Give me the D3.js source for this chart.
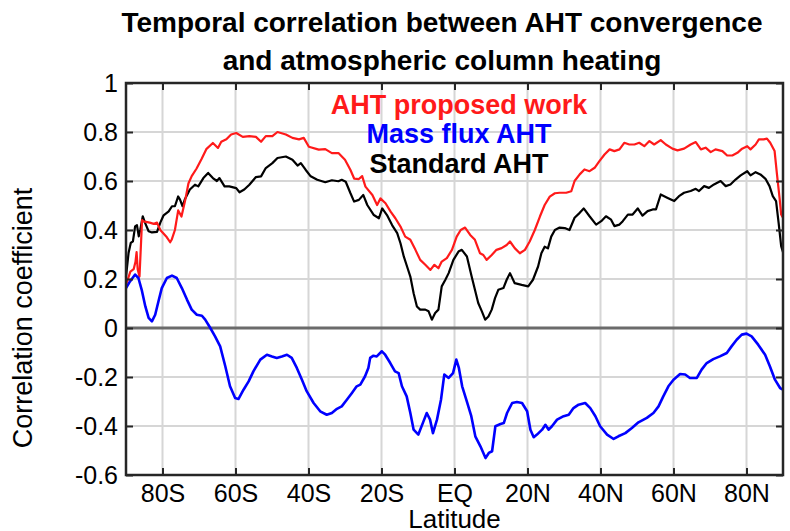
<!DOCTYPE html>
<html>
<head>
<meta charset="utf-8">
<script src="https://cdn.jsdelivr.net/npm/d3@7"></script>
<style>
  body { margin: 0; background: #fff; }
  text { font-family: "Liberation Sans", Arial, sans-serif; }
</style>
</head>
<body>
<div id="chart"></div>
<script>

///// Data

// x tick values / labels
let xTicks = [-80, -60, -40, -20, 0, 20, 40, 60, 80];
let xTickLabels = ["80S", "60S", "40S", "20S", "EQ", "20N", "40N", "60N", "80N"];
let yTicks = [-0.6, -0.4, -0.2, 0, 0.2, 0.4, 0.6, 0.8, 1];
let yTickLabels = ["-0.6", "-0.4", "-0.2", "0", "0.2", "0.4", "0.6", "0.8", "1"];

let legendNames = ["AHT proposed work", "Mass flux AHT", "Standard AHT"];

// AHT proposed work (red)
let latRed = [-90, -88.8, -87.9, -87.4, -87.1, -86.8, -86.3, -85.6, -85.2, -83.5, -82.4, -81.5, -80.6,
  -78.8, -77.9, -77.5, -76.6, -75.7, -74.8, -73.8, -72.9, -72.0, -70.7, -69.3, -68.0, -66.2, -64.8,
  -63.9, -62.5, -61.2, -59.8, -58.0, -56.2, -54.4, -53.0, -51.7, -49.9, -48.5, -46.2, -44.4, -42.6,
  -41.3, -39.9, -37.2, -35.4, -33.6, -31.8, -30.0, -28.5, -27.5, -26.2, -25.3, -24.4, -22.5, -21.2,
  -20.3, -18.9, -17.5, -16.2, -14.8, -13.5, -12.1, -10.7, -9.4, -8.0, -6.6, -5.5, -4.4, -3.5, -2.1,
  -0.7, 0.6, 1.7, 2.9, 4.3, 5.6, 7.0, 7.9, 8.8, 10.2, 11.5, 12.9, 14.3, 15.2, 16.5, 17.9, 19.3, 20.6,
  22.0, 23.4, 24.7, 26.1, 27.5, 28.8, 30.6, 32.0, 32.9, 34.3, 35.6, 37.0, 38.4, 39.7, 41.1, 42.5, 43.8,
  45.2, 46.5, 47.9, 49.3, 50.6, 52.0, 53.4, 54.7, 56.5, 57.9, 59.7, 61.1, 62.9, 64.7, 66.1, 67.5, 68.8,
  70.2, 71.5, 73.4, 74.7, 76.1, 77.5, 78.8, 80.2, 81.1, 82.5, 83.4, 84.7, 85.6, 86.5, 87.7, 88.3, 89.1,
  89.5, 90];
let corrRed = [0.177, 0.23, 0.24, 0.27, 0.31, 0.24, 0.21, 0.44, 0.435, 0.43, 0.425, 0.43, 0.40,
  0.37, 0.35, 0.36, 0.40, 0.48, 0.455, 0.52, 0.59, 0.62, 0.65, 0.69, 0.73, 0.755, 0.735,
  0.76, 0.77, 0.79, 0.796, 0.78, 0.783, 0.78, 0.76, 0.783, 0.783, 0.80, 0.79, 0.776, 0.77,
  0.776, 0.74, 0.728, 0.73, 0.714, 0.714, 0.687, 0.645, 0.61, 0.608, 0.62, 0.577, 0.543, 0.502,
  0.529, 0.509, 0.475, 0.448, 0.414, 0.373, 0.36, 0.319, 0.278, 0.258, 0.237, 0.258, 0.244, 0.271, 0.285,
  0.319, 0.373, 0.40, 0.41, 0.38, 0.36, 0.305, 0.298, 0.278, 0.298, 0.319, 0.326, 0.339, 0.353, 0.326, 0.305, 0.319, 0.353,
  0.40, 0.455, 0.502, 0.536, 0.55, 0.552, 0.552, 0.558, 0.60, 0.627, 0.647, 0.64, 0.654, 0.681, 0.708, 0.729, 0.722,
  0.729, 0.756, 0.749, 0.749, 0.756, 0.742, 0.763, 0.749, 0.767, 0.749, 0.732, 0.725, 0.732, 0.749, 0.759, 0.729, 0.736,
  0.718, 0.729, 0.722, 0.704, 0.704, 0.715, 0.732, 0.742, 0.729, 0.749, 0.77, 0.77, 0.773, 0.756, 0.722, 0.634, 0.525,
  0.463, 0.45];

// Standard AHT (black)
let latBlack = [-90, -89.3, -88.7, -88.1, -87.5, -87.0, -86.5, -86.1, -85.4, -84.8, -83.8, -82.9, -81.5,
  -80.6, -79.7, -78.3, -77.4, -76.6, -75.7, -75.2, -74.5, -73.9, -72.5, -71.1, -70.2, -68.8, -67.5,
  -66.2, -65.1, -64.4, -63.0, -61.7, -59.8, -58.9, -57.6, -56.2, -54.4, -53.0, -51.7, -49.9, -48.5,
  -46.2, -44.4, -43.0, -42.1, -40.8, -39.4, -37.6, -35.4, -33.6, -31.8, -30.9, -29.8, -28.5, -27.5,
  -26.2, -25.0, -23.9, -22.1, -20.7, -19.8, -18.5, -17.1, -15.7, -14.8, -13.9, -13.0, -12.1, -11.2,
  -10.3, -9.4, -8.0, -7.1, -6.2, -5.3, -4.4, -3.5, -2.5, -1.6, -0.3, 1.1, 2.0, 3.4, 4.7, 5.6, 6.5,
  7.5, 8.4, 9.3, 10.2, 11.1, 12.0, 13.4, 14.3, 15.2, 16.5, 18.4, 20.2, 21.5, 22.9, 23.8, 24.7, 25.6,
  26.5, 27.5, 28.8, 30.2, 31.5, 32.9, 34.3, 35.4, 37.0, 38.8, 40.2, 41.5, 42.9, 43.8, 45.2, 46.1,
  47.5, 48.8, 50.2, 51.5, 52.9, 54.3, 55.2, 56.5, 58.4, 60.2, 61.5, 62.9, 64.7, 66.1, 67.0, 68.4,
  69.7, 71.1, 72.9, 74.3, 75.6, 77.0, 78.4, 80.2, 81.1, 82.5, 83.8, 85.2, 86.3, 87.2, 88.1, 88.8,
  89.5, 90];
let corrBlack = [0.21, 0.306, 0.347, 0.354, 0.415, 0.42, 0.374, 0.40, 0.456, 0.43, 0.395, 0.39, 0.392,
  0.43, 0.46, 0.476, 0.497, 0.497, 0.537, 0.524, 0.497, 0.524, 0.565, 0.585, 0.578, 0.612, 0.633,
  0.612, 0.60, 0.612, 0.578, 0.578, 0.571, 0.554, 0.565, 0.585, 0.616, 0.619, 0.653, 0.673, 0.694,
  0.70, 0.687, 0.663, 0.673, 0.646, 0.619, 0.605, 0.595, 0.603, 0.599, 0.605, 0.597, 0.55, 0.516,
  0.523, 0.543, 0.502, 0.461, 0.448, 0.488, 0.461, 0.42, 0.387, 0.346, 0.292, 0.251, 0.21, 0.142,
  0.088, 0.075, 0.075, 0.068, 0.034, 0.061, 0.075, 0.17, 0.197, 0.224, 0.278, 0.312, 0.319, 0.292, 0.21, 0.156, 0.102,
  0.068, 0.034, 0.047, 0.075, 0.122, 0.156, 0.163, 0.197, 0.224, 0.183, 0.176, 0.17, 0.197, 0.251, 0.305, 0.332, 0.325,
  0.373, 0.40, 0.41, 0.408, 0.40, 0.45, 0.47, 0.488, 0.456, 0.422, 0.436, 0.456, 0.442, 0.416, 0.422, 0.436,
  0.463, 0.463, 0.488, 0.459, 0.477, 0.484, 0.484, 0.545, 0.531, 0.518, 0.538, 0.552, 0.559, 0.568, 0.559, 0.579,
  0.572, 0.586, 0.60, 0.579, 0.586, 0.606, 0.623, 0.64, 0.623, 0.636, 0.627, 0.609, 0.579, 0.538, 0.518, 0.429,
  0.334, 0.31];

// Mass flux AHT (blue)
let latBlue = [-90, -88.9, -87.5, -86.6, -85.7, -84.7, -83.8, -82.9, -82.0, -81.1, -80.2, -78.8, -77.4,
  -76.1, -74.7, -73.3, -72.0, -70.6, -69.2, -68.3, -66.9, -65.6, -64.2, -62.8, -61.5, -60.1, -59.2,
  -57.8, -56.4, -55.1, -53.2, -51.4, -50.0, -48.7, -47.3, -45.9, -44.6, -43.2, -41.8, -40.5, -38.6,
  -36.8, -35.0, -33.6, -32.2, -30.9, -29.5, -28.1, -26.8, -25.8, -24.5, -23.6, -23.1, -22.2, -21.3,
  -19.9, -19.0, -17.6, -16.3, -15.3, -14.4, -13.1, -12.1, -11.2, -9.9, -8.5, -7.6, -6.7, -5.9, -4.8,
  -3.7, -2.8, -1.6, -0.4, 0.5, 1.2, 2.1, 3.5, 4.6, 5.7, 7.1, 8.5, 9.4, 10.3, 11.2, 12.6, 13.5, 14.4,
  15.8, 17.1, 18.5, 19.9, 20.8, 21.7, 22.6, 24.0, 24.9, 25.8, 26.7, 28.1, 29.9, 31.3, 32.6, 34.0,
  35.8, 37.2, 38.6, 39.9, 41.8, 43.6, 44.9, 46.8, 48.6, 50.4, 52.7, 54.5, 55.9, 57.2, 58.6, 60.0,
  61.8, 63.2, 64.5, 66.4, 67.7, 69.1, 70.9, 72.7, 74.6, 75.9, 77.3, 78.7, 80.0, 81.4, 83.2, 85.1,
  86.4, 87.8, 89.2, 90];
let corrBlue = [0.163, 0.19, 0.218, 0.204, 0.156, 0.088, 0.041, 0.027, 0.054, 0.109, 0.163, 0.204, 0.214,
  0.204, 0.163, 0.116, 0.075, 0.054, 0.05, 0.034, 0.0, -0.034, -0.075, -0.156, -0.238, -0.286, -0.29,
  -0.252, -0.218, -0.177, -0.129, -0.109, -0.116, -0.122, -0.116, -0.109, -0.122, -0.163, -0.211, -0.258, -0.306,
  -0.34, -0.354, -0.347, -0.33, -0.32, -0.293, -0.265, -0.238, -0.231, -0.197, -0.163, -0.122, -0.113, -0.116,
  -0.095, -0.109, -0.143, -0.177, -0.184, -0.238, -0.279, -0.347, -0.415, -0.435, -0.381, -0.347, -0.374, -0.429, -0.374,
  -0.293, -0.19, -0.204, -0.184, -0.129, -0.163, -0.238, -0.306, -0.36, -0.442, -0.483, -0.531, -0.51, -0.503, -0.401, -0.392, -0.388, -0.347,
  -0.306, -0.302, -0.306, -0.34, -0.415, -0.446, -0.435, -0.415, -0.395, -0.415, -0.401, -0.374, -0.36, -0.354, -0.327, -0.313,
  -0.306, -0.327, -0.36, -0.401, -0.435, -0.453, -0.442, -0.429, -0.408, -0.385, -0.367, -0.347, -0.32, -0.279, -0.238, -0.211,
  -0.188, -0.19, -0.204, -0.204, -0.17, -0.143, -0.127, -0.116, -0.102, -0.075, -0.048, -0.027, -0.023, -0.034, -0.068, -0.109,
  -0.156, -0.211, -0.245, -0.252];


///// D3

// Set the dimensions of the canvas / graph
let margin = { top: 83, right: 7, bottom: 56, left: 126 },
    width = 790 - margin.left - margin.right,
    height = 531 - margin.top - margin.bottom;

// Set the ranges
let x = d3.scaleLinear().domain([-90, 90]).range([0, width]);
let y = d3.scaleLinear().domain([-0.6, 1]).range([height, 0]);

// Define the line
let valueline = d3.line()
    .x(function(d) { return x(d[0]); })
    .y(function(d) { return y(d[1]); });

let root = d3.select("#chart")
    .append("svg")
    .attr("width", 790)
    .attr("height", 531);

let svg = root.append("g")
    .attr("transform", "translate(" + margin.left + "," + margin.top + ")");

// grid lines
svg.selectAll(".xgrid")
    .data(xTicks)
    .enter().append("line")
    .attr("x1", d => x(d)).attr("x2", d => x(d))
    .attr("y1", 0).attr("y2", height)
    .attr("stroke", "#d6d6d6").attr("stroke-width", 2);

svg.selectAll(".ygrid")
    .data(yTicks.filter(d => d !== 0))
    .enter().append("line")
    .attr("x1", 0).attr("x2", width)
    .attr("y1", d => y(d)).attr("y2", d => y(d))
    .attr("stroke", "#d6d6d6").attr("stroke-width", 2);

// zero line
svg.append("line")
    .attr("x1", 0).attr("x2", width)
    .attr("y1", y(0)).attr("y2", y(0))
    .attr("stroke", "#6b6b6b").attr("stroke-width", 3);

// the curves
let series = [
    { lat: latBlack, val: corrBlack, color: "#000000", w: 2.2 },
    { lat: latRed, val: corrRed, color: "#ff1a1a", w: 2.2 },
    { lat: latBlue, val: corrBlue, color: "#0000ff", w: 2.6 }
];
series.forEach(function(s) {
    let pts = s.lat.map(function(l, i) { return [l, s.val[i]]; });
    svg.append("path")
        .attr("fill", "none")
        .attr("stroke", s.color)
        .attr("stroke-width", s.w)
        .attr("stroke-linejoin", "round")
        .attr("d", valueline(pts));
});

// Axes (ticks pointing inward)
function styleAxis(g) {
    g.select(".domain").remove();
    g.selectAll(".tick line").attr("stroke", "#262626").attr("stroke-width", 2);
    g.selectAll("text")
        .attr("fill", "#000")
        .style("font-size", "25px");
}

svg.append("g")
    .attr("transform", "translate(0," + height + ")")
    .call(d3.axisBottom(x).tickValues(xTicks).tickSize(-7).tickPadding(9)
        .tickFormat((d, i) => xTickLabels[i]))
    .call(styleAxis);

svg.append("g")
    .call(d3.axisTop(x).tickValues(xTicks).tickSize(-7).tickFormat(""))
    .call(styleAxis);

svg.append("g")
    .call(d3.axisLeft(y).tickValues(yTicks).tickSize(-7).tickPadding(8)
        .tickFormat((d, i) => yTickLabels[i]))
    .call(styleAxis);

svg.append("g")
    .attr("transform", "translate(" + width + ",0)")
    .call(d3.axisRight(y).tickValues(yTicks).tickSize(-7).tickFormat(""))
    .call(styleAxis);

// box
svg.append("rect")
    .attr("width", width).attr("height", height)
    .attr("fill", "none")
    .attr("stroke", "#262626").attr("stroke-width", 2.5);

// legend (text only)
let legendColors = ["#ff1a1a", "#0000ff", "#000000"];
svg.selectAll(".legend")
    .data(legendNames)
    .enter().append("text")
    .attr("x", 459 - margin.left)
    .attr("y", (d, i) => 114 - margin.top + i * 29.3)
    .attr("text-anchor", "middle")
    .style("font-size", "27px")
    .style("font-weight", "bold")
    .attr("fill", (d, i) => legendColors[i])
    .text(d => d);

// title
let titleLines = ["Temporal correlation between AHT convergence", "and atmospheric column heating"];
root.selectAll(".title")
    .data(titleLines)
    .enter().append("text")
    .attr("x", 442)
    .attr("y", (d, i) => 32 + i * 38)
    .attr("text-anchor", "middle")
    .style("font-size", "28px")
    .style("font-weight", "bold")
    .text(d => d);

// axis labels
root.append("text")
    .attr("x", margin.left + width / 2)
    .attr("y", 528)
    .attr("text-anchor", "middle")
    .style("font-size", "26px")
    .text("Latitude");

root.append("text")
    .attr("transform", "translate(32,318) rotate(-90)")
    .attr("text-anchor", "middle")
    .style("font-size", "27px")
    .text("Correlation coefficient");

</script>
</body>
</html>
